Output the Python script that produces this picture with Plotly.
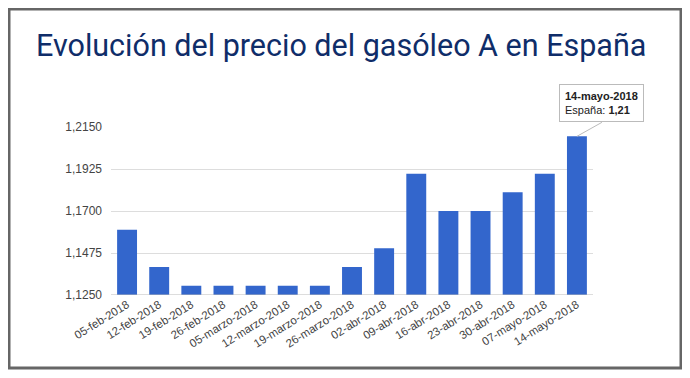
import plotly.graph_objects as go

fechas = ["05-feb-2018", "12-feb-2018", "19-feb-2018", "26-feb-2018", "05-marzo-2018",
          "12-marzo-2018", "19-marzo-2018", "26-marzo-2018", "02-abr-2018", "09-abr-2018",
          "16-abr-2018", "23-abr-2018", "30-abr-2018", "07-mayo-2018", "14-mayo-2018"]
precios = [1.16, 1.14, 1.13, 1.13, 1.13, 1.13, 1.13, 1.14, 1.15, 1.19,
           1.17, 1.17, 1.18, 1.19, 1.21]
y_ticks = [1.1250, 1.1475, 1.1700, 1.1925, 1.2150]
y_tick_labels = ["1,1250", "1,1475", "1,1700", "1,1925", "1,2150"]
titulo = "Evolución del precio del gasóleo A en España"

# the page body adds an 8px margin; compensate so the figure fills the window
OFF = 8
W, H = 690 - OFF, 378 - OFF
L, T = 111 - OFF, 127 - OFF
R = W - (593 - OFF)
B = H - (295 - OFF)
pw, ph = W - L - R, H - T - B


def px(x):
    return (x - OFF - L) / pw


def py(y):
    return (H - B - (y - OFF)) / ph


fig = go.Figure()
fig.add_trace(go.Bar(x=fechas, y=precios, marker=dict(color="#3366cc", line=dict(width=0))))

fig.update_layout(
    width=W, height=H,
    margin=dict(l=L, r=R, t=T, b=B, autoexpand=False),
    paper_bgcolor="white", plot_bgcolor="white",
    bargap=0.38,
    showlegend=False,
    title=dict(text=titulo, x=(36 - OFF) / W, xanchor="left", y=1 - (45 - OFF) / H, yanchor="middle",
               font=dict(family="Roboto", size=30.5, color="#0f2d69")),
    xaxis=dict(range=[-0.5, len(fechas) - 0.5], tickangle=-32,
               tickfont=dict(family="Arial, Liberation Sans", size=11.5, color="#444"),
               showgrid=False, showline=False, ticks="", fixedrange=True),
    yaxis=dict(range=[1.125, 1.215], tickvals=y_ticks, ticktext=y_tick_labels,
               tickfont=dict(family="Arial, Liberation Sans", size=12, color="#444"),
               gridcolor="#dddddd", gridwidth=1, zeroline=False, showline=False,
               ticklabelstandoff=8),
    shapes=[
        dict(type="rect", xref="paper", yref="paper", x0=px(9), x1=px(681), y0=py(368), y1=py(9),
             line=dict(color="#666666", width=3), fillcolor="rgba(0,0,0,0)", layer="below"),
        dict(type="line", xref="paper", yref="y", x0=0, x1=1, y0=1.125, y1=1.125,
             line=dict(color="#bbbbbb", width=1)),
    ],
    annotations=[
        dict(x=fechas[-1], y=precios[-1], xref="x", yref="y",
             text="<b>" + fechas[-1] + "</b><br>España: <b>1,21</b>",
             showarrow=True, arrowhead=0, arrowcolor="#bbbbbb", arrowwidth=1,
             ax=25, ay=-14, align="left", xanchor="center", yanchor="bottom",
             bgcolor="white", bordercolor="#bbbbbb", borderwidth=1, borderpad=5,
             font=dict(family="Arial, Liberation Sans", size=11, color="#222")),
    ],
)

fig.write_html("out.html")
